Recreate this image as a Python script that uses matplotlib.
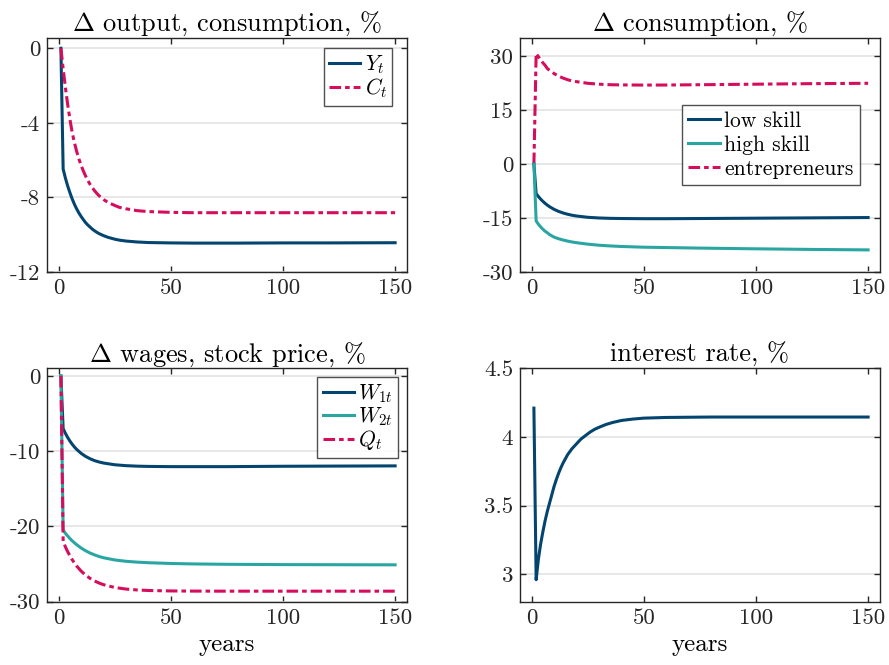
import matplotlib
matplotlib.use("Agg")
import matplotlib.pyplot as plt

plt.rcParams['font.family'] = ['cmr10', 'DejaVu Serif']
plt.rcParams['mathtext.fontset'] = 'cm'
plt.rcParams['axes.unicode_minus'] = False
plt.rcParams['axes.formatter.use_mathtext'] = False

# ---------------- data ----------------
t_yc = [1, 2, 3, 4, 5, 6, 7, 8, 9, 10, 11, 12, 13, 14, 15, 16, 17, 18, 20, 22, 25, 27, 30, 35, 40,
        50, 60, 80, 100, 120, 150]
Y = [0, -6.48, -6.96, -7.38, -7.74, -8.07, -8.36, -8.61, -8.83, -9.02, -9.19, -9.35, -9.48, -9.59,
     -9.70, -9.79, -9.87, -9.94, -10.05, -10.14, -10.24, -10.29, -10.34, -10.39, -10.42,
     -10.44, -10.45, -10.45, -10.44, -10.44, -10.43]
C = [0, -1.10, -2.10, -3.00, -3.80, -4.50, -5.05, -5.52, -5.93, -6.28, -6.58, -6.85, -7.09, -7.30,
     -7.48, -7.64, -7.78, -7.91, -8.11, -8.27, -8.43, -8.53, -8.61, -8.71, -8.76,
     -8.80, -8.82, -8.82, -8.82, -8.82, -8.82]

t_cons = [1, 2, 3, 4, 5, 6, 7, 8, 10, 12, 14, 16, 18, 20, 25, 30, 35, 40, 50, 60, 75, 100, 125, 150]
low_skill = [0, -8.2, -9.0, -9.72, -10.35, -10.91, -11.4, -11.84, -12.57, -13.14, -13.58, -13.93,
             -14.21, -14.42, -14.78, -14.97, -15.07, -15.12, -15.17, -15.17, -15.12, -15.03,
             -14.94, -14.85]
high_skill = [0, -15.8, -16.7, -17.45, -18.1, -18.65, -19.1, -19.6, -20.3, -20.75, -21.1, -21.4,
              -21.65, -21.85, -22.25, -22.55, -22.75, -22.9, -23.1, -23.2, -23.35, -23.55,
              -23.72, -23.85]
entrepreneurs = [0, 30.8, 29.9, 29.0, 28.2, 27.5, 26.6, 26.1, 25.2, 24.5, 23.95, 23.5, 23.15,
                 22.95, 22.5, 22.25, 22.1, 22.05, 22.0, 22.02, 22.1, 22.25, 22.4, 22.5]

t_w = [1, 2, 3, 4, 5, 6, 7, 8, 10, 12, 14, 16, 18, 20, 25, 30, 35, 40, 50, 60, 75, 100, 150]
W1 = [0, -7.0, -7.62, -8.17, -8.64, -9.06, -9.43, -9.75, -10.28, -10.69, -11.0, -11.25, -11.43,
      -11.57, -11.80, -11.92, -11.985, -12.02, -12.05, -12.05, -12.05, -12.0, -11.95]
W2 = [0, -20.5, -20.9, -21.26, -21.6, -21.9, -22.17, -22.42, -22.86, -23.23, -23.53, -23.78,
      -23.99, -24.16, -24.45, -24.63, -24.74, -24.82, -24.92, -24.98, -25.03, -25.07, -25.1]
Q = [0, -22.0, -22.71, -23.34, -23.9, -24.4, -24.85, -25.25, -25.93, -26.47, -26.9, -27.24,
     -27.52, -27.74, -28.11, -28.32, -28.44, -28.51, -28.57, -28.59, -28.6, -28.6, -28.6]

t_r = [1, 2, 3, 4, 5, 6, 7, 8, 9, 10, 11, 12, 13, 14, 15, 16, 18, 20, 22, 24, 26, 28, 30, 33, 36,
       40, 45, 50, 60, 80, 150]
r = [4.21, 2.96, 3.11, 3.22, 3.31, 3.39, 3.46, 3.52, 3.58, 3.64, 3.69, 3.735, 3.775, 3.81, 3.84,
     3.87, 3.915, 3.95, 3.985, 4.01, 4.035, 4.055, 4.07, 4.09, 4.105, 4.12, 4.13, 4.137, 4.142,
     4.145, 4.145]

titles = [r'$\Delta$ output, consumption, %', r'$\Delta$ consumption, %',
          r'$\Delta$ wages, stock price, %', 'interest rate, %']
xticks = [0, 50, 100, 150]
yticks = [[0, -4, -8, -12], [30, 15, 0, -15, -30], [0, -10, -20, -30], [4.5, 4, 3.5, 3]]
ylims = [(-12, 0.55), (-30, 35.1), (-30, 1.02), (2.8, 4.5)]

# ---------------- style ----------------
BLUE = '#03456f'
TEAL = '#2aa6a2'
RED = '#d60c5c'
DASHDOT = (0, (3.8, 1.3, 1.5, 1.3))
LW = 2.2
FS = 16.5
LFS = 15.5
TFS = 19

fig = plt.figure(figsize=(8.89, 6.65), dpi=100)
positions = [
    [47 / 889, 1 - 272 / 665, 360 / 889, 234 / 665],
    [520 / 889, 1 - 272 / 665, 360 / 889, 234 / 665],
    [47 / 889, 1 - 601.7 / 665, 360 / 889, 233.4 / 665],
    [520 / 889, 1 - 601.7 / 665, 360 / 889, 233.4 / 665],
]
axes = [fig.add_axes(p) for p in positions]

for i, ax in enumerate(axes):
    ax.set_xlim(-5.2, 155.3)
    ax.set_ylim(*ylims[i])
    ax.set_xticks(xticks)
    ax.set_yticks(yticks[i])
    ax.set_yticklabels([('%g' % v) for v in yticks[i]])
    ax.yaxis.grid(True, color='#e3e3e3', linewidth=1.2)
    ax.set_axisbelow(True)
    ax.tick_params(direction='in', length=4, width=1, top=True, right=True,
                   labelsize=FS, colors='#262626', pad=5)
    for s in ax.spines.values():
        s.set_color('#262626')
        s.set_linewidth(1.0)
    ax.set_title(titles[i], fontsize=TFS, color='black', pad=5)

ax = axes[0]
ax.plot(t_yc, Y, color=BLUE, lw=LW, label=r'$Y_t$')
ax.plot(t_yc, C, color=RED, lw=LW, ls=DASHDOT, label=r'$C_t$')

ax = axes[1]
ax.plot(t_cons, entrepreneurs, color=RED, lw=LW, ls=DASHDOT, label='entrepreneurs', zorder=2)
ax.plot(t_cons, low_skill, color=BLUE, lw=LW, label='low skill', zorder=3)
ax.plot(t_cons, high_skill, color=TEAL, lw=LW, label='high skill', zorder=3)

ax = axes[2]
ax.plot(t_w, W1, color=BLUE, lw=LW, label=r'$W_{1t}$')
ax.plot(t_w, W2, color=TEAL, lw=LW, label=r'$W_{2t}$')
ax.plot(t_w, Q, color=RED, lw=LW, ls=DASHDOT, label=r'$Q_t$')

ax = axes[3]
ax.plot(t_r, r, color=BLUE, lw=LW)

leg_kw = dict(fontsize=LFS, frameon=True, fancybox=False, edgecolor='#262626',
              handlelength=1.45, handletextpad=0.2, borderaxespad=0.0)

l0 = axes[0].legend(loc='upper right', bbox_to_anchor=(0.959, 0.956),
                    borderpad=0.25, labelspacing=0.02, **leg_kw)
h, lab = axes[1].get_legend_handles_labels()
order = [1, 2, 0]
l1 = axes[1].legend([h[k] for k in order], [lab[k] for k in order], loc='upper right',
                    bbox_to_anchor=(0.944, 0.714), borderpad=0.3, labelspacing=0.2, **leg_kw)
l2 = axes[2].legend(loc='upper right', bbox_to_anchor=(0.976, 0.964),
                    borderpad=0.25, labelspacing=0.02, **leg_kw)
for l in (l0, l1, l2):
    l.get_frame().set_linewidth(1.0)

for ax in (axes[2], axes[3]):
    ax.set_xlabel('years', fontsize=18, labelpad=4)

fig.savefig('out.png', dpi=100)
